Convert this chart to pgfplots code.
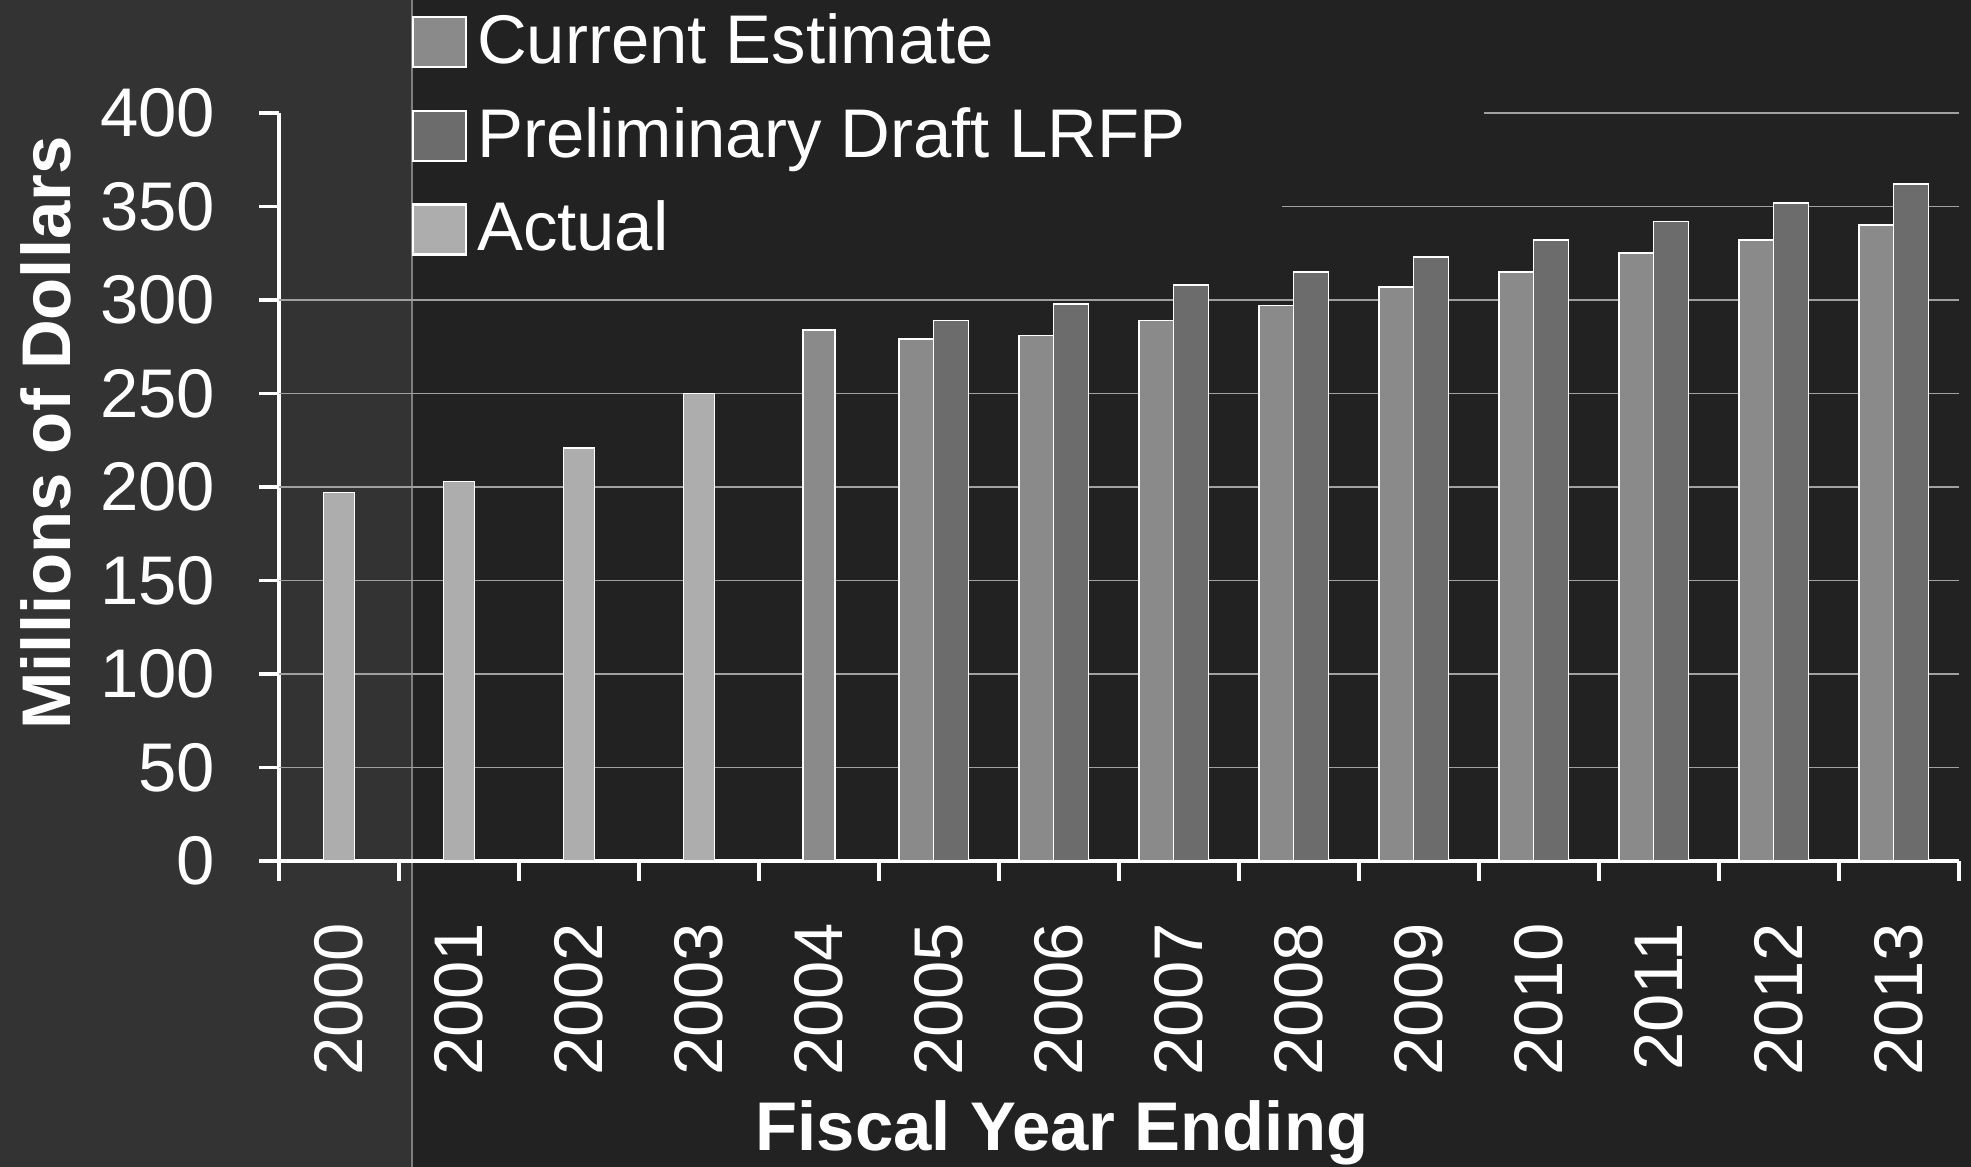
\documentclass[border=0pt]{standalone}
\usepackage{pgfplots}
\pgfplotsset{compat=1.18}
\usepackage{fontspec}
\setmainfont{Liberation Sans}
\definecolor{bgR}{HTML}{222222}
\definecolor{bgL}{HTML}{333333}
\definecolor{act}{HTML}{ADADAD}
\definecolor{ce}{HTML}{8A8A8A}
\definecolor{pd}{HTML}{6C6C6C}
\definecolor{grd}{HTML}{A0A0A0}
\newcommand\chartfont{\fontsize{19.6}{23.5}\selectfont}
\begin{document}
\begin{tikzpicture}
\fill[bgR] (0,0) rectangle (197.1mm,116.7mm);
\fill[bgL] (0,0) rectangle (41.2mm,116.7mm);
\draw[gray, line width=0.4pt] (41.2mm,0) -- (41.2mm,116.7mm);
\begin{axis}[
  at={(27.9mm,30.6mm)}, anchor=south west,
  scale only axis, width=168mm, height=74.8mm,
  xmin=-0.5, xmax=13.5, ymin=0, ymax=400,
  axis lines*=left,
  axis line style={white, line width=1pt},
  xtick={-0.5,0.5,...,13.5},
  xticklabels={},
  extra x ticks={0,1,...,13},
  extra x tick labels={2000,2001,2002,2003,2004,2005,2006,2007,2008,2009,2010,2011,2012,2013},
  extra x tick style={major tick length=0pt},
  ytick={0,50,...,400},
  tick align=outside,
  major tick length=2mm,
  tick style={white, line width=1pt},
  ticklabel style={font=\chartfont, text=white},
  x tick label style={rotate=90, anchor=east, inner sep=0pt},
  y tick label style={anchor=east, inner sep=0pt},
  xticklabel shift=6.1mm,
  yticklabel shift=4.3mm,
  /pgf/number format/assume math mode=true,
  legend style={draw=none, fill=none, text=white, inner sep=0pt, outer sep=0pt,
    at={(axis description cs:0.0792,1.1396)}, anchor=north west,
    row sep=2.37mm, column sep=1mm,
    nodes={inner sep=0pt, text height=5.5mm, text depth=1.5mm, font=\chartfont}},
  legend cell align=left,
  legend image code/.code={\draw[#1, line width=0.6pt] (0mm,-2.35mm) rectangle (5.3mm,2.65mm);},
]
\pgfplotsinvokeforeach{50,100,...,300}{
  \draw[grd, line width=0.5pt] (axis cs:-0.5,#1) -- (axis cs:13.5,#1);
}
\draw[grd, line width=0.5pt] (axis cs:7.86,350) -- (axis cs:13.5,350);
\draw[grd, line width=0.5pt] (axis cs:9.54,400) -- (axis cs:13.5,400);

\addplot[ybar, bar width=0.27, bar shift=0, fill=ce, draw=white, line width=0.5pt, forget plot]
  coordinates {(4,284)};
\addplot[ybar, bar width=0.29, bar shift=-0.19, fill=ce, draw=white, line width=0.5pt]
  coordinates {(5,279)(6,281)(7,289)(8,297)(9,307)(10,315)(11,325)(12,332)(13,340)};
\addlegendentry{Current Estimate}
\addplot[ybar, bar width=0.29, bar shift=0.10, fill=pd, draw=white, line width=0.5pt]
  coordinates {(5,289)(6,298)(7,308)(8,315)(9,323)(10,332)(11,342)(12,352)(13,362)};
\addlegendentry{Preliminary Draft LRFP}
\addplot[ybar, bar width=0.26, bar shift=0, fill=act, draw=white, line width=0.5pt]
  coordinates {(0,197)(1,203)(2,221)(3,250)};
\addlegendentry{Actual}
\end{axis}
\node[rotate=90, font=\chartfont\bfseries, text=white, inner sep=0pt] at (4.55mm,73.4mm) {Millions of Dollars};
\node[anchor=base, font=\chartfont\bfseries, text=white, inner sep=0pt] at (106.2mm,1.6mm) {Fiscal Year Ending};
\pgfresetboundingbox
\path[use as bounding box] (0,0) rectangle (197.1mm,116.7mm);
\end{tikzpicture}
\end{document}
